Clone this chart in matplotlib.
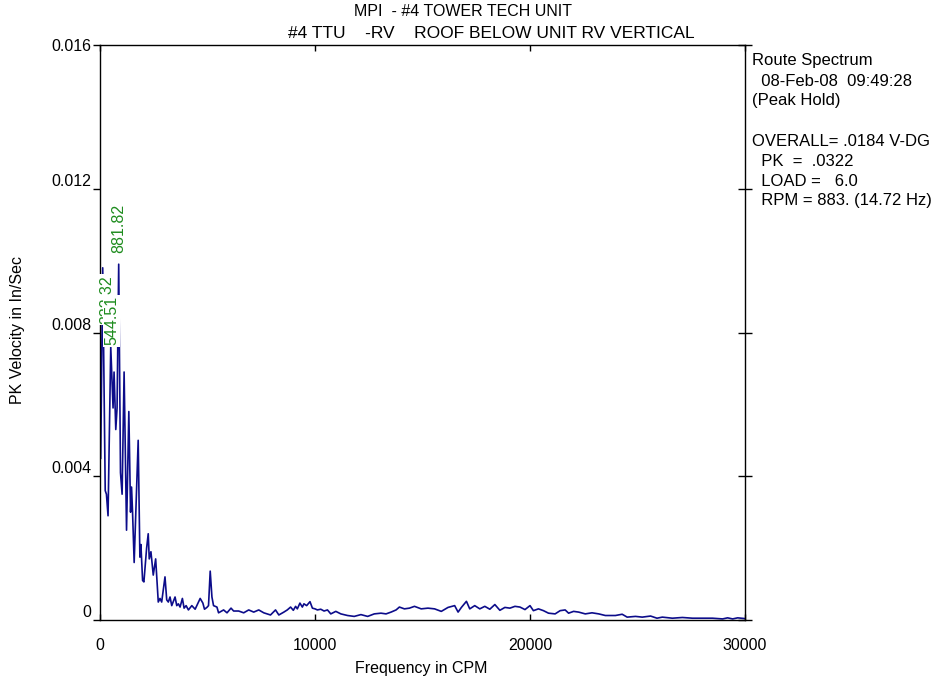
import matplotlib
matplotlib.use("Agg")
import matplotlib.pyplot as plt

plt.rcParams['font.family'] = ['Liberation Sans', 'DejaVu Sans']

# spectrum (CPM, in/sec)
freq = [
    33, 126, 243, 299, 374, 500, 607, 654, 734, 794,
    870, 953, 1028, 1121, 1234, 1341, 1421, 1467, 1514, 1589,
    1776, 1855, 1902, 1981, 2042, 2168, 2243, 2290, 2369, 2477,
    2589, 2710, 2790, 2869, 3023, 3103, 3178, 3257, 3337, 3491,
    3570, 3645, 3724, 3832, 3911, 4005, 4112, 4271, 4425, 4659,
    4785, 4860, 4972, 5047, 5126, 5206, 5281, 5439, 5514, 5748,
    5907, 6094, 6215, 6449, 6683, 6916, 7150, 7383, 7617, 7930,
    8164, 8318, 8552, 8710, 8865, 8991, 9098, 9178, 9299, 9411,
    9486, 9612, 9767, 9879, 10000, 10112, 10267, 10421, 10580, 10734,
    10968, 11202, 11514, 11823, 12136, 12449, 12757, 13070, 13304, 13538,
    13771, 13925, 14159, 14393, 14627, 14940, 15253, 15561, 15874, 16187,
    16496, 16655, 16809, 17043, 17197, 17430, 17664, 17898, 18131, 18365,
    18599, 18832, 19066, 19300, 19533, 19767, 20000, 20158, 20392, 20626,
    20860, 21168, 21402, 21636, 21795, 22028, 22262, 22571, 22884, 23197,
    23505, 23973, 24286, 24519, 24907, 25221, 25608, 25907, 26154, 26621,
    27088, 27556, 28023, 28490, 28957, 29191, 29425, 29659, 29986,
]
velocity = [
    0.0045, 0.0098, 0.0036, 0.0035, 0.0029, 0.0076, 0.0059, 0.0069, 0.0053, 0.0059,
    0.0099, 0.0041, 0.0035, 0.0069, 0.0025, 0.0058, 0.0030, 0.0037, 0.0030, 0.0016,
    0.0050, 0.00175, 0.0021, 0.0011, 0.00106, 0.0020, 0.0024, 0.0017, 0.0019, 0.00125,
    0.0017, 0.0005, 0.0006, 0.0005, 0.0012, 0.00056, 0.0005, 0.00064, 0.0004, 0.00064,
    0.0004, 0.00045, 0.00036, 0.0006, 0.00033, 0.0004, 0.00028, 0.0004, 0.0003, 0.0006,
    0.00047, 0.0003, 0.00035, 0.0004, 0.00136, 0.00064, 0.0004, 0.00036, 0.0002, 0.00028,
    0.0002, 0.00033, 0.00025, 0.00025, 0.0002, 0.00028, 0.00022, 0.00028, 0.0002, 0.00014,
    0.00028, 0.00014, 0.00022, 0.00028, 0.00036, 0.00027, 0.00038, 0.00031, 0.00047, 0.00036,
    0.00045, 0.0004, 0.00051, 0.00033, 0.00031, 0.00028, 0.0003, 0.00025, 0.00028, 0.00017,
    0.00024, 0.00017, 0.000125, 0.0001, 0.00015, 0.0001, 0.00017, 0.00019, 0.00017, 0.00022,
    0.00028, 0.00036, 0.00031, 0.00033, 0.00038, 0.00031, 0.00033, 0.00031, 0.00024, 0.00035,
    0.0004, 0.00022, 0.00035, 0.00052, 0.00031, 0.0004, 0.00031, 0.00038, 0.0003, 0.00043,
    0.00027, 0.00035, 0.00033, 0.00038, 0.00036, 0.00029, 0.0004, 0.00026, 0.00031, 0.00026,
    0.00019, 0.00017, 0.00026, 0.00028, 0.00019, 0.00024, 0.00022, 0.00017, 0.0002, 0.00017,
    0.000125, 0.000125, 0.00016, 0.00008, 0.0001, 0.00008, 0.00011, 0.00005, 0.00008, 0.00005,
    0.00007, 0.00005, 0.00005, 0.00005, 0.00003, 0.00006, 0.00003, 0.00006, 0.00004,
]

peak_labels = ["332.32", "544.51", "881.82"]
peak_freqs = [332.32, 544.51, 881.82]
label_y = [0.00825, 0.00764, 0.01022]   # bottom of each rotated label

x_ticks = [0, 10000, 20000, 30000]
x_tick_labels = ["0", "10000", "20000", "30000"]
y_ticks = [0, 0.004, 0.008, 0.012, 0.016]
y_tick_labels = ["0", "0.004", "0.008", "0.012", "0.016"]

info_lines = [
    "Route Spectrum",
    "  08-Feb-08  09:49:28",
    "(Peak Hold)",
    "",
    "OVERALL= .0184 V-DG",
    "  PK  =  .0322",
    "  LOAD =   6.0",
    "  RPM = 883. (14.72 Hz)",
]

W, H = 940, 682
FS = 11.5
fig = plt.figure(figsize=(W / 100, H / 100), dpi=100)
ax = fig.add_axes([100 / W, 62 / H, 645 / W, 575 / H])

ax.plot(freq, velocity, color="#0c0c8a", lw=1.2, zorder=2)

for txt, f, y in zip(peak_labels, peak_freqs, label_y):
    ax.text(f, y, txt, rotation=90, ha="center", va="bottom", fontsize=FS,
            color="#1e8c1e", zorder=3,
            bbox=dict(facecolor="white", edgecolor="none", pad=0.8))

ax.set_xlim(0, 30000)
ax.set_ylim(0, 0.016)
ax.set_xticks(x_ticks)
ax.set_xticklabels(x_tick_labels)
ax.set_yticks(y_ticks)
ax.set_yticklabels(y_tick_labels)
for lab in ax.get_yticklabels()[:-1]:
    lab.set_va("bottom")

ax.tick_params(axis="x", direction="in", length=4.5, top=True, pad=13,
               labelsize=FS, width=1)
ax.tick_params(axis="y", direction="out", length=5, left=True, right=False,
               pad=1, labelsize=FS, width=1)
for s in ax.spines.values():
    s.set_linewidth(1)
    s.set_color("black")

twin = ax.twinx()
twin.set_ylim(0, 0.016)
twin.set_yticks(y_ticks)
twin.set_yticklabels([])
twin.tick_params(axis="y", direction="inout", length=9.5, width=1)
for s in twin.spines.values():
    s.set_visible(False)

fig.text(463 / W, 1 - 12 / H, "MPI  - #4 TOWER TECH UNIT", ha="center",
         va="center", fontsize=FS)
fig.text(491 / W, 1 - 34 / H, "#4 TTU    -RV    ROOF BELOW UNIT RV VERTICAL",
         ha="center", va="center", fontsize=12.5)
fig.text(421 / W, 1 - 668 / H, "Frequency in CPM", ha="center", va="center",
         fontsize=FS)
fig.text(18 / W, 1 - 330 / H, "PK Velocity in In/Sec", ha="center",
         va="center", rotation=90, fontsize=FS)

for i, line in enumerate(info_lines):
    fig.text(752 / W, 1 - (61 + 20 * i) / H, line, ha="left", va="center",
             fontsize=12)

fig.savefig("out.png", dpi=100)
